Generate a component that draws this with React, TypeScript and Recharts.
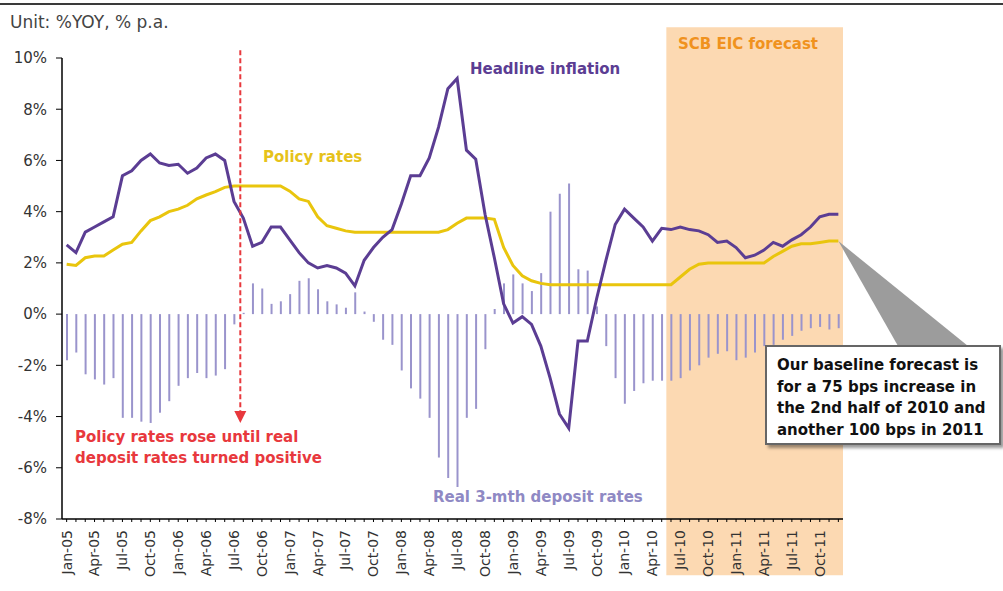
import React from 'react'
import {
  ComposedChart,
  Bar,
  Line,
  XAxis,
  YAxis,
  ReferenceArea,
  ReferenceLine,
  ReferenceDot,
} from 'recharts'

const years = ['05', '06', '07', '08', '09', '10', '11']
const monthNames = ['Jan', 'Feb', 'Mar', 'Apr', 'May', 'Jun', 'Jul', 'Aug', 'Sep', 'Oct', 'Nov', 'Dec']
const months = years.flatMap((y) => monthNames.map((m) => `${m}-${y}`))

// %YOY
const headlineInflation = [
  2.7, 2.4, 3.2, 3.4, 3.6, 3.8, 5.4, 5.6, 6.0, 6.25, 5.9, 5.8,
  5.85, 5.5, 5.7, 6.1, 6.25, 6.0, 4.4, 3.75, 2.65, 2.8, 3.4, 3.4,
  2.9, 2.4, 2.0, 1.8, 1.9, 1.8, 1.6, 1.1, 2.1, 2.6, 3.0, 3.3,
  4.3, 5.4, 5.4, 6.1, 7.3, 8.8, 9.2, 6.4, 6.05, 3.9, 2.2, 0.4,
  -0.35, -0.1, -0.4, -1.25, -2.5, -3.9, -4.45, -1.05, -1.05, 0.6, 2.1, 3.5,
  4.1, 3.75, 3.4, 2.85, 3.35, 3.3, 3.4, 3.3, 3.25, 3.1, 2.8, 2.85,
  2.6, 2.2, 2.3, 2.5, 2.8, 2.65, 2.9, 3.1, 3.4, 3.8, 3.9, 3.9,
]

// % p.a.
const policyRates = [
  1.95, 1.9, 2.2, 2.27, 2.27, 2.5, 2.73, 2.8, 3.25, 3.65, 3.8, 4.0,
  4.1, 4.25, 4.5, 4.65, 4.78, 4.95, 5.0, 5.0, 5.0, 5.0, 5.0, 5.0,
  4.8, 4.5, 4.4, 3.8, 3.45, 3.35, 3.25, 3.2, 3.2, 3.2, 3.2, 3.2,
  3.2, 3.2, 3.2, 3.2, 3.2, 3.3, 3.55, 3.75, 3.75, 3.75, 3.7, 2.6,
  1.9, 1.5, 1.3, 1.2, 1.15, 1.15, 1.15, 1.15, 1.15, 1.15, 1.15, 1.15,
  1.15, 1.15, 1.15, 1.15, 1.15, 1.15, 1.45, 1.75, 1.95, 2.0, 2.0, 2.0,
  2.0, 2.0, 2.0, 2.0, 2.25, 2.45, 2.65, 2.75, 2.75, 2.8, 2.85, 2.85,
]

const realDepositRates = [
  -1.8, -1.5, -2.35, -2.55, -2.75, -2.5, -4.05, -4.05, -4.2, -4.25, -3.85, -3.4,
  -2.8, -2.5, -2.3, -2.5, -2.4, -2.15, -0.4, 0.05, 1.2, 1.0, 0.4, 0.5,
  0.78, 1.3, 1.4, 0.97, 0.5, 0.38, 0.25, 0.85, 0.1, -0.3, -1.0, -1.2,
  -2.2, -2.9, -3.3, -4.05, -5.6, -6.4, -6.75, -4.05, -3.7, -1.37, 0.2, 1.2,
  1.55, 1.2, 0.9, 1.6, 4.0, 4.7, 5.1, 1.75, 1.7, 0.3, -1.25, -2.5,
  -3.5, -3.0, -2.7, -2.6, -2.6, -2.6, -2.5, -2.2, -2.0, -1.7, -1.55, -1.45,
  -1.8, -1.7, -1.5, -1.25, -1.2, -1.0, -0.85, -0.65, -0.55, -0.5, -0.6, -0.55,
]

const yTicks = [-8, -6, -4, -2, 0, 2, 4, 6, 8, 10]

const data = months.map((month, i) => ({
  month,
  inflation: headlineInflation[i],
  policy: policyRates[i],
  real: realDepositRates[i],
}))

const FONT = '"DejaVu Sans", Verdana, sans-serif'

function MonthTick(props: any) {
  const { x, y, payload } = props
  const index = props.index ?? payload.index
  if (index % 3 !== 0) return <g />
  return (
    <text
      x={x}
      y={y}
      transform={`rotate(-90, ${x}, ${y})`}
      textAnchor="end"
      dy="0.35em"
      fontSize={14}
      fill="#333"
      fontFamily={FONT}
    >
      {payload.value}
    </text>
  )
}

function DashedArrow(props: any) {
  const { x1, y1, y2 } = props
  const x = x1 - 3
  return (
    <g>
      <line x1={x} y1={y1} x2={x} y2={y2 - 10} stroke="#e8383d" strokeWidth={2} strokeDasharray="5 3" />
      <polygon points={`${x - 6},${y2 - 12} ${x + 6},${y2 - 12} ${x},${y2}`} fill="#e8383d" />
    </g>
  )
}

function Wedge(props: any) {
  const { cx, cy } = props
  return <polygon points={`${cx},${cy} 898,346 968,346`} fill="#9c9c9c" />
}

function Note({ x, y, color, size = 15, bold = true, children }: any) {
  return (
    <div
      style={{
        position: 'absolute',
        left: x,
        top: y,
        color,
        fontSize: size,
        fontWeight: bold ? 'bold' : 'normal',
        fontFamily: FONT,
        lineHeight: 1,
        whiteSpace: 'nowrap',
      }}
    >
      {children}
    </div>
  )
}

export default function App() {
  return (
    <div style={{ position: 'absolute', left: 0, top: 0, width: 1003, height: 591, background: '#fff', overflow: 'hidden' }}>
      <div style={{ position: 'absolute', left: 0, top: 3, width: 1003, height: 2, background: '#3a3a3a' }} />
      <Note x={10} y={14} color="#444" size={17} bold={false}>
        Unit: %YOY, % p.a.
      </Note>

      <ComposedChart
        width={1003}
        height={591}
        data={data}
        margin={{ top: 58, right: 160, bottom: 0, left: 0 }}
        barGap={0}
      >
        <ReferenceArea
          x1="Jun-10"
          x2="Dec-11"
          y1={-10.2}
          y2={11.2}
          ifOverflow="visible"
          fill="#fcd9b2"
          fillOpacity={1}
          stroke="none"
        />
        <XAxis
          dataKey="month"
          interval={0}
          height={72}
          tickSize={3}
          tickMargin={8}
          tick={<MonthTick />}
          tickLine={{ stroke: '#000' }}
          axisLine={{ stroke: '#000', strokeWidth: 1.5 }}
        />
        <YAxis
          domain={[-8, 10]}
          ticks={yTicks}
          width={62}
          tickSize={6}
          tickMargin={9}
          tickFormatter={(v) => `${v}%`}
          tick={{ fill: '#333', fontSize: 15, fontFamily: FONT }}
          tickLine={{ stroke: '#000' }}
          axisLine={{ stroke: '#000', strokeWidth: 1.5 }}
        />
        <Bar dataKey="real" fill="#9a94cc" barSize={2} isAnimationActive={false} />
        <Line
          type="linear"
          dataKey="policy"
          stroke="#e9c50d"
          strokeWidth={3}
          dot={false}
          isAnimationActive={false}
        />
        <Line
          type="linear"
          dataKey="inflation"
          stroke="#5b3d93"
          strokeWidth={3}
          dot={false}
          isAnimationActive={false}
        />
        <ReferenceLine
          segment={[
            { x: 'Aug-06', y: 10.3 },
            { x: 'Aug-06', y: -4.25 },
          ]}
          ifOverflow="visible"
          shape={DashedArrow}
        />
        <ReferenceDot x="Dec-11" y={policyRates[policyRates.length - 1]} ifOverflow="visible" shape={Wedge} />
      </ComposedChart>

      <Note x={470} y={62} color="#5b3d93">Headline inflation</Note>
      <Note x={263} y={150} color="#e6c21a">Policy rates</Note>
      <Note x={433} y={490} color="#8f89c4">Real 3-mth deposit rates</Note>
      <Note x={678} y={37} color="#f0921e">SCB EIC forecast</Note>
      <Note x={75} y={430} color="#e8383d">Policy rates rose until real</Note>
      <Note x={75} y={451} color="#e8383d">deposit rates turned positive</Note>

      <div
        style={{
          position: 'absolute',
          left: 765,
          top: 345,
          width: 232,
          height: 96,
          background: '#fff',
          border: '2px solid #666',
          boxShadow: '3px 3px 3px rgba(0,0,0,0.4)',
        }}
      />
      <Note x={777} y={358} color="#111">Our baseline forecast is</Note>
      <Note x={777} y={380} color="#111">for a 75 bps increase in</Note>
      <Note x={777} y={401} color="#111">the 2nd half of 2010 and</Note>
      <Note x={777} y={423} color="#111">another 100 bps in 2011</Note>
    </div>
  )
}
